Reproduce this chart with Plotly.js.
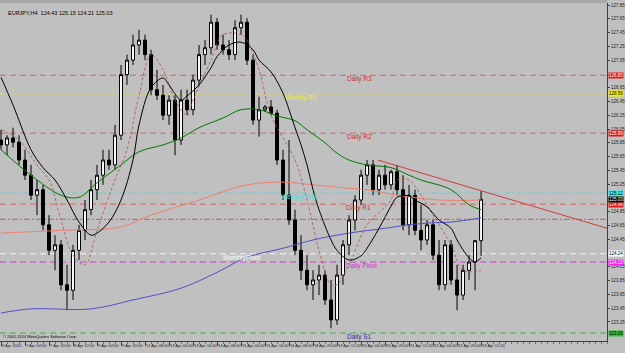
<!DOCTYPE html>
<html><head><meta charset="utf-8">
<script src="https://cdn.plot.ly/plotly-3.0.1.min.js"></script>
<style>html,body{margin:0;padding:0;background:#c0c0c0;}#chart{width:625px;height:353px;}</style>
</head><body><div id="chart"></div><script>
// ---- data ----
const openP  = [125.89,125.82,125.92,125.86,125.60,125.38,125.09,125.17,124.66,124.29,124.37,123.79,123.71,124.29,124.58,124.88,125.17,125.38,125.60,125.53,125.96,126.84,127.05,127.27,127.34,127.13,126.62,126.54,126.25,126.47,125.89,126.47,126.33,126.76,127.13,127.23,127.60,127.27,127.20,127.13,127.52,127.60,127.05,126.18,126.33,126.37,126.28,125.60,125.09,124.73,124.29,124.00,123.79,123.86,123.93,123.57,123.28,123.93,124.37,124.73,125.02,125.38,125.53,125.17,125.38,125.24,125.43,125.17,124.66,125.09,124.58,124.44,124.66,124.22,123.79,124.37,123.86,123.64,124.00,124.12,124.43];
const highP  = [126.04,125.96,126.07,125.96,125.75,125.53,125.31,125.24,124.80,124.51,124.44,124.08,124.37,124.66,125.02,125.31,125.53,125.75,125.75,126.11,126.98,127.13,127.42,127.49,127.42,127.20,126.91,126.69,126.54,126.54,126.62,126.62,126.84,127.27,127.34,127.71,127.66,127.42,127.34,127.63,127.71,127.66,127.13,126.52,126.40,126.47,126.33,125.75,125.89,124.88,124.51,124.22,124.00,124.08,124.00,123.86,124.08,124.44,124.80,125.09,125.46,125.60,125.60,125.46,125.53,125.46,125.53,125.38,125.24,125.17,124.95,124.73,124.73,124.44,124.44,124.44,124.08,124.08,124.22,124.44,125.15];
const lowP   = [125.75,125.67,125.78,125.53,125.31,125.02,124.80,124.58,124.22,124.00,123.71,123.42,123.57,124.15,124.44,124.80,125.02,125.24,125.46,125.46,125.89,126.69,126.98,127.13,127.05,126.54,126.47,126.18,126.11,125.67,125.82,126.25,126.25,126.69,126.98,127.13,127.20,127.13,127.05,127.05,127.42,126.98,126.11,125.94,126.30,126.25,125.53,125.02,124.66,124.22,123.86,123.71,123.57,123.64,123.50,123.16,123.21,123.79,124.22,124.58,124.95,125.24,125.09,125.09,125.17,125.17,125.09,124.58,124.51,124.51,124.29,124.37,124.15,123.71,123.71,123.79,123.42,123.57,123.86,123.71,124.21];
const closeP = [125.82,125.92,125.86,125.60,125.38,125.09,125.17,124.66,124.29,124.37,123.79,123.71,124.29,124.58,124.88,125.17,125.38,125.60,125.53,125.96,126.84,127.05,127.27,127.34,127.13,126.62,126.54,126.25,126.47,125.89,126.47,126.33,126.76,127.13,127.23,127.60,127.27,127.20,127.13,127.52,127.60,127.05,126.18,126.33,126.37,126.28,125.60,125.09,124.73,124.29,124.00,123.79,123.86,123.93,123.57,123.28,123.93,124.37,124.73,125.02,125.38,125.53,125.17,125.38,125.24,125.43,125.17,124.66,125.09,124.58,124.44,124.66,124.22,123.79,124.37,123.86,123.64,124.00,124.12,124.43,125.03];

const labelBars  = [0,4,8,12,16,20,24,28,32,36,40,44,48,52,56,60,64,68,72,76,80];
const timeLabels = ["6 Apr 2015","7 Apr 04:00","7 Apr 20:00","8 Apr 12:00","9 Apr 04:00","9 Apr 20:00","12 Apr 08:00","13 Apr 00:00","13 Apr 16:00","14 Apr 08:00","15 Apr 00:00","15 Apr 16:00","16 Apr 08:00","18 Apr 20:00","19 Apr 12:00","20 Apr 04:00","20 Apr 20:00","21 Apr 12:00","22 Apr 04:00","22 Apr 20:00","23 Apr 12:00"];
const priceTicks = [123.25,123.45,123.65,123.85,124.05,124.45,124.65,124.85,125.25,125.45,125.65,125.85,126.05,126.25,126.45,126.65,127.05,127.25,127.45,127.65,127.85];

const blackBars = [0,2,5,7,9,11,13,15,16,18,20,22,23,25,27,28,30,31,33,35,36,38,40,42,43,45,47,48,49,50,51,52,53,55,56,58,60,61,63,65,66,68,69,71,73,75,76,78,79,80];
const blackMA   = [126.80,126.40,125.75,125.49,125.31,125.02,124.70,124.51,124.54,124.70,125.02,125.60,126.11,126.65,126.79,126.69,126.47,126.53,126.69,126.94,127.10,127.27,127.31,127.20,127.05,126.88,126.57,126.33,126.07,125.82,125.53,125.17,124.88,124.44,124.29,124.15,124.21,124.32,124.61,124.93,125.06,125.08,125.02,124.92,124.73,124.61,124.44,124.18,124.12,124.18];
const greenBars = [0,5,10,13,16,20,23,27,30,33,37,40,43,46,49,51,54,56,58,61,65,68,70,75,78,80];
const greenMA   = [125.75,125.38,125.09,125.06,125.27,125.53,125.72,125.82,125.92,126.07,126.21,126.33,126.33,126.24,126.17,126.04,125.85,125.70,125.60,125.53,125.49,125.38,125.31,125.17,124.95,124.88];
const salmonBars = [0,10,20,25,33,41,47,52,58,61,66,73,80];
const salmonMA   = [124.54,124.58,124.63,124.80,125.02,125.24,125.28,125.24,125.19,125.17,125.09,125.02,125.02];
const blueBars = [0,5,15,22,30,36,41,47,52,58,64,68,72,75,80];
const blueMA   = [123.38,123.44,123.44,123.57,123.74,123.97,124.19,124.32,124.44,124.54,124.61,124.66,124.69,124.70,124.76];
const dashBars = [0,3,6,8,10,12,14,16,19,21,23,25,27,29,31,32,35,37,40,41,43,45,49,51,53,55,56,58,61,65,66,68,70,72,75,77,80];
const dashMA   = [126.04,125.89,125.53,125.31,124.73,124.22,124.08,124.58,125.31,125.75,126.54,127.13,126.91,126.47,126.25,126.47,127.05,127.42,127.42,127.34,126.91,126.25,125.60,125.02,124.29,123.79,123.79,124.08,124.66,125.02,125.31,125.31,125.09,124.80,124.37,124.00,124.00];

const trendBars  = [62.8,101];
const trendPrice = [125.60,124.61];

const levelNames  = ["Daily R3","Weekly R1","Daily R2","WeeklyPivot","Daily R1","","MonthlyPivot","Daily Pivot","Daily S1"];
const levelPrices = [126.83,126.56,125.99,125.12,124.96,124.74,124.24,124.12,123.09];
const lastPrice = 125.03;
const titleText = "EURJPY,H4  124.43 125.15 124.21 125.03";

// ---- styles ----
const levelStyle = [
  {c:"#d26464",d:"6px,4px",t:"#c83232",lx:59.7,box:"#e01818",bt:"#ffffff"},
  {c:"#e6e600",d:"2px,2px",t:"#f0f000",lx:50.0,box:"#f0f000",bt:"#000000"},
  {c:"#d26464",d:"6px,4px",t:"#c83232",lx:59.7,box:"#e01818",bt:"#ffffff"},
  {c:"#5fd3d3",d:"6px,2px,2px,2px",t:"#40e0e0",lx:49.7,box:"#30f0f0",bt:"#000000"},
  {c:"#d26464",d:"6px,4px",t:"#c83232",lx:59.5,box:"#e01818",bt:"#ffffff"},
  {c:"#b4645a",d:"6px,2px,2px,2px",t:"#b4645a",lx:0,box:null},
  {c:"#f4f4f4",d:"6px,4px",t:"#ffffff",lx:40.0,box:"#ffffff",bt:"#000000"},
  {c:"#d23cd2",d:"6px,4px",t:"#e020e0",lx:60.0,box:"#f020f0",bt:"#ffffff"},
  {c:"#3cb43c",d:"6px,4px",t:"#303090",lx:59.8,box:"#30c030",bt:"#000000"}
];
const FONT = "Liberation Sans, Arial, sans-serif";
const idx = openP.map((_, i) => i);

const traces = [
  {type:"scatter",mode:"lines",x:blueBars,y:blueMA,line:{color:"#5050c8",width:1,shape:"spline"},hoverinfo:"skip"},
  {type:"scatter",mode:"lines",x:salmonBars,y:salmonMA,line:{color:"#f08070",width:1,shape:"spline"},hoverinfo:"skip"},
  {type:"scatter",mode:"lines",x:greenBars,y:greenMA,line:{color:"#007800",width:1,shape:"spline"},hoverinfo:"skip"},
  {type:"scatter",mode:"lines",x:dashBars,y:dashMA,line:{color:"#b05050",width:0.8,dash:"3px,2px",shape:"spline"},hoverinfo:"skip"},
  {type:"scatter",mode:"lines",x:trendBars,y:trendPrice,line:{color:"#d23c3c",width:1},hoverinfo:"skip"},
  {type:"candlestick",x:idx,open:openP,high:highP,low:lowP,close:closeP,whiskerwidth:0,
   increasing:{line:{color:"#000000",width:1},fillcolor:"#ffffff"},
   decreasing:{line:{color:"#000000",width:1},fillcolor:"#000000"},hoverinfo:"skip"},
  {type:"scatter",mode:"lines",x:blackBars,y:blackMA,line:{color:"#000000",width:1,shape:"spline"},hoverinfo:"skip"}
];

const shapes = levelPrices.map((p,i)=>({type:"line",xref:"paper",x0:0,x1:1,yref:"y",y0:p,y1:p,
  line:{color:levelStyle[i].c,width:1,dash:levelStyle[i].d},layer:"below"}));
shapes.push({type:"rect",xref:"paper",yref:"paper",x0:-0.001,x1:1,y0:1,y1:1.012,fillcolor:"#a8a8a8",line:{width:0},layer:"above"});

const annotations = [];
levelPrices.forEach((p,i)=>{
  const s = levelStyle[i];
  if (levelNames[i]) annotations.push({xref:"x",x:s.lx,yref:"y",y:p,yshift:-4,text:levelNames[i],showarrow:false,
     font:{family:FONT,size:6.5,color:s.t}});
  if (s.box) annotations.push({xref:"paper",x:1,xanchor:"left",xshift:1,yref:"y",y:p,text:p.toFixed(2),showarrow:false,
     bgcolor:s.box,borderpad:0,font:{family:FONT,size:4.5,color:s.bt}});
});
annotations.push({xref:"paper",x:1,xanchor:"left",xshift:1,yref:"y",y:lastPrice,text:lastPrice.toFixed(2),showarrow:false,
  bgcolor:"#000000",borderpad:0,font:{family:FONT,size:4.5,color:"#ffffff"}});
annotations.push({xref:"paper",x:0,xanchor:"left",xshift:6,yref:"paper",y:1,yanchor:"top",yshift:-5,text:titleText,showarrow:false,
  font:{family:FONT,size:5.5,color:"#000000"}});
annotations.push({xref:"paper",x:0,xanchor:"left",xshift:1,yref:"paper",y:0,yanchor:"bottom",yshift:0,text:"© 2001-2014 MetaQuotes Software Corp.",showarrow:false,
  font:{family:FONT,size:4,color:"#000000"}});

const layout = {
  width:625,height:353,margin:{l:0,r:18,t:3,b:12},
  paper_bgcolor:"#c0c0c0",plot_bgcolor:"#c0c0c0",showlegend:false,
  xaxis:{range:[-0.167,100.99],showgrid:false,zeroline:false,tickmode:"array",tickvals:labelBars,ticktext:timeLabels,
    tickangle:0,ticks:"outside",ticklen:4,tickcolor:"#404040",ticklabelposition:"outside right",automargin:false,
    tickfont:{family:FONT,size:4,color:"#202020"},showline:true,linecolor:"#404040",linewidth:1,
    minor:{dtick:1,tick0:0,ticks:"outside",ticklen:2,tickcolor:"#707070"},rangeslider:{visible:false},fixedrange:true},
  yaxis:{side:"right",range:[122.974,127.879],tickmode:"array",tickvals:priceTicks,tickformat:".2f",ticks:"outside",ticklen:2,automargin:false,
    tickcolor:"#404040",showgrid:false,zeroline:false,showline:true,linecolor:"#404040",linewidth:1,
    tickfont:{family:FONT,size:4.5,color:"#202020"},fixedrange:true},
  shapes:shapes,annotations:annotations
};
Plotly.newPlot("chart",traces,layout,{displayModeBar:false,staticPlot:true});
</script></body></html>
